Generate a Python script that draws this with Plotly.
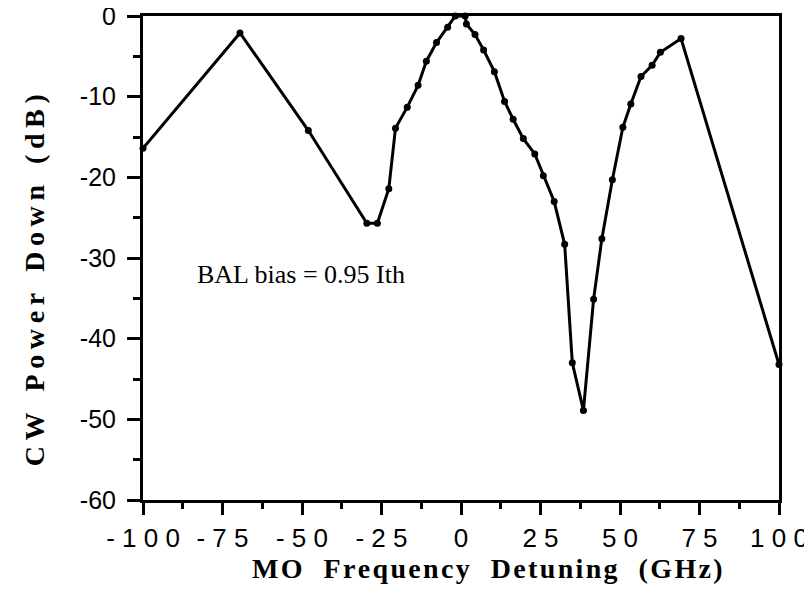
import plotly.graph_objects as go

# Data (MO frequency detuning in GHz, CW power down in dB)
detuning_ghz = [-100, -69.5, -48, -29.6, -26.3, -22.7, -20.6, -16.9, -13.5, -10.9,
                -7.7, -4.2, -1.8, 1.3, 1.7, 4.4, 7.1, 10.5, 13.7, 16.4,
                19.6, 23.2, 25.9, 29.3, 32.6, 35.0, 38.5, 41.7, 44.3, 47.6,
                50.9, 53.4, 56.6, 60.1, 62.7, 69.2, 100]
power_down_db = [-16.4, -2.1, -14.2, -25.7, -25.7, -21.4, -13.9, -11.3, -8.6, -5.6,
                 -3.3, -1.4, 0.0, 0.0, -1.0, -2.3, -4.2, -6.9, -10.6, -12.8,
                 -15.2, -17.1, -19.8, -23.0, -28.3, -43.0, -48.9, -35.1, -27.6, -20.3,
                 -13.8, -10.9, -7.5, -6.1, -4.5, -2.8, -43.2]

x_tick_vals = [-100, -75, -50, -25, 0, 25, 50, 75, 100]
x_tick_text = ["- 1 0 0", "- 7 5", "- 5 0", "- 2 5", "0", "2 5", "5 0", "7 5", "1 0 0"]
y_tick_vals = [0, -10, -20, -30, -40, -50, -60]
y_tick_text = ["0", "-10", "-20", "-30", "-40", "-50", "-60"]

x_title = "MO Frequency Detuning (GHz)"
y_title = "CW Power Down (dB)"
note = "BAL bias = 0.95 Ith"


def spaced(s, letter, word):
    words = s.split(" ")
    return word.join(letter.join(list(w)) for w in words)


fig = go.Figure()
fig.add_trace(go.Scatter(
    x=detuning_ghz, y=power_down_db, mode="lines+markers",
    line=dict(color="black", width=3),
    marker=dict(color="black", size=7),
    cliponaxis=False, showlegend=False,
))

axis_common = dict(
    showgrid=False, zeroline=False, showline=True, linecolor="black", linewidth=3,
    mirror=True, ticks="outside", tickcolor="black", tickwidth=2.5, automargin=False,
    ticklabeloverflow="allow",
)

fig.update_xaxes(
    range=[-100, 100], tickvals=x_tick_vals, ticktext=x_tick_text,
    ticklen=12, ticklabelstandoff=1,
    tickfont=dict(family="Liberation Sans, Arial", size=26, color="black"),
    minor=dict(dtick=12.5, tick0=0, ticklen=6, ticks="outside", tickcolor="black", tickwidth=2.5),
    **axis_common,
)
fig.update_yaxes(
    range=[-60, 0], tickvals=y_tick_vals, ticktext=y_tick_text,
    ticklen=13, ticklabelstandoff=6,
    tickfont=dict(family="Liberation Sans, Arial", size=25, color="black"),
    minor=dict(dtick=5, tick0=0, ticklen=7, ticks="outside", tickcolor="black", tickwidth=2.5),
    **axis_common,
)

fig.add_annotation(
    text=note, x=-83.6, y=-32.0, xref="x", yref="y", xanchor="left", yanchor="middle",
    showarrow=False, font=dict(family="Liberation Serif, Times New Roman", size=26, color="black"),
)
fig.add_annotation(
    text="<b>" + spaced(x_title, "\u200a", "\u2002 ") + "</b>", x=0.541, y=-0.1405,
    xref="paper", yref="paper", xanchor="center", yanchor="middle", showarrow=False,
    font=dict(family="Liberation Serif, Times New Roman", size=28, color="black"),
)
fig.add_annotation(
    text="<b>" + spaced(y_title, "\u2009", "\u2002 ") + "</b>", x=-0.171, y=0.4545,
    xref="paper", yref="paper", xanchor="center", yanchor="middle", showarrow=False,
    textangle=-90,
    font=dict(family="Liberation Serif, Times New Roman", size=28, color="black"),
)

fig.update_layout(
    width=812, height=590,
    margin=dict(l=135, r=41, t=8, b=98),
    plot_bgcolor="white", paper_bgcolor="white",
)

fig.write_html("out.html")
